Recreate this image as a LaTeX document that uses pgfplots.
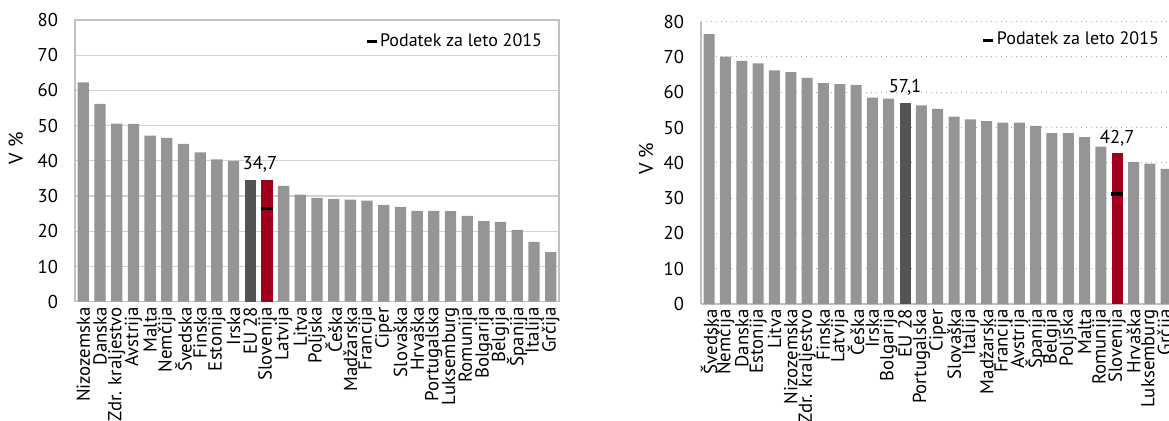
\documentclass[border=0pt]{standalone}
\usepackage{fontspec}
\setmainfont{PT Sans}
\usepackage{pgfplots}
\pgfplotsset{compat=1.18}
\definecolor{barg}{HTML}{959595}
\definecolor{bard}{HTML}{535353}
\definecolor{barr}{HTML}{A0001E}
\definecolor{gridg}{HTML}{D2D2D2}
\definecolor{frameg}{HTML}{C0C0C0}
\definecolor{dotg}{HTML}{A8A8A8}
\pgfplotsset{
  common/.style={
    scale only axis, anchor=south west,
    ymin=0, ymax=80, ytick={0,10,...,80},
    xmin=-0.5, xmax=28.5, xtick={0,...,28},
    tick style={draw=none},
    /pgf/number format/assume math mode=true,
    yticklabel style={font=\fontsize{9.3}{10}\selectfont, xshift=-5pt},
    xticklabel style={font=\fontsize{9.4}{11}\selectfont, rotate=90, anchor=east, inner sep=2.5pt},
    ymajorgrids,
    label style={font=\fontsize{9.3}{10}\selectfont},
    ylabel={V \%},
    legend style={draw=none, fill=none, font=\fontsize{9}{10}\selectfont,
      inner sep=0pt, outer sep=0pt, anchor=north east,
      legend cell align=left, nodes={inner sep=1pt}},
  },
  mybar/.style={ybar, bar width=#1, bar shift=0pt, draw=none, forget plot},
  mymark/.style={only marks, mark=-, mark size=3pt, mark options={line width=1.6pt, black},
    legend image code/.code={\draw[black, line width=1.5pt] (0pt,0pt) -- (5pt,0pt);}},
}
\begin{document}
\begin{tikzpicture}
\clip[use as bounding box] (0,0) rectangle (584.5pt,210pt);
% ---------------- left panel ----------------
\begin{axis}[common,
  at={(37.5pt,59.15pt)}, width=242pt, height=140.85pt,
  grid style={gridg, line width=0.6pt},
  axis line style={frameg, line width=0.6pt},
  every axis y label/.style={at={(axis description cs:-0.122,0.545)}, rotate=90, anchor=center},
  xticklabels={Nizozemska,Danska,Zdr. kraljestvo,Avstrija,Malta,Nemčija,Švedska,Finska,Estonija,Irska,EU 28,Slovenija,Latvija,Litva,Poljska,Češka,Madžarska,Francija,Ciper,Slovaška,Hrvaška,Portugalska,Luksemburg,Romunija,Bolgarija,Belgija,Španija,Italija,Grčija},
  legend style={at={(axis description cs:1,1)}, xshift=-7.5pt, yshift=-6pt},
]
\addplot[mybar=5.65pt, fill=barg] coordinates {
(0,62.3) (1,56.2) (2,50.6) (3,50.5) (4,47.2) (5,46.5) (6,44.8) (7,42.4) (8,40.4) (9,40.0)
(12,32.9) (13,30.4) (14,29.5) (15,29.1) (16,29.0) (17,28.7) (18,27.5) (19,26.9) (20,25.8)
(21,25.8) (22,25.7) (23,24.4) (24,22.9) (25,22.7) (26,20.4) (27,17.0) (28,14.1)};
\addplot[mybar=5.65pt, fill=bard] coordinates {(10,34.7)};
\addplot[mybar=5.65pt, fill=barr, nodes near coords={34,7},
  every node near coord/.append style={font=\fontsize{9.3}{10}\selectfont, black, xshift=-3.5pt}] coordinates {(11,34.7)};
\addplot[mymark] coordinates {(11,26.4)};
\addlegendentry{Podatek za leto 2015}
\end{axis}
% ---------------- right panel ----------------
\begin{axis}[common,
  at={(350.5pt,58pt)}, width=236.7pt, height=141.15pt,
  axis x line*=bottom, axis y line*=left,
  axis line style={frameg, line width=0.8pt, -},
  grid style={dotg, line width=0.5pt, dotted},
  every axis y label/.style={at={(axis description cs:-0.116,0.514)}, rotate=90, anchor=center},
  xticklabels={Švedska,Nemčija,Danska,Estonija,Litva,Nizozemska,Zdr. kraljestvo,Finska,Latvija,Češka,Irska,Bolgarija,EU 28,Portugalska,Ciper,Slovaška,Italija,Madžarska,Francija,Avstrija,Španija,Belgija,Poljska,Malta,Romunija,Slovenija,Hrvaška,Luksemburg,Grčija},
  legend style={at={(axis description cs:1,1)}, xshift=-6.75pt, yshift=-4.2pt},
]
\addplot[mybar=5.5pt, fill=barg] coordinates {
(0,76.5) (1,70.1) (2,68.9) (3,68.2) (4,66.2) (5,65.7) (6,64.1) (7,62.6) (8,62.3) (9,62.1)
(10,58.5) (11,58.2) (13,56.3) (14,55.3) (15,53.1) (16,52.3) (17,51.8) (18,51.4) (19,51.4)
(20,50.5) (21,48.4) (22,48.4) (23,47.3) (24,44.6) (26,40.2) (27,39.8) (28,38.3)};
\addplot[mybar=5.5pt, fill=bard, nodes near coords={57,1},
  every node near coord/.append style={font=\fontsize{9.3}{10}\selectfont, black}] coordinates {(12,57.1)};
\addplot[mybar=5.5pt, fill=barr, nodes near coords={42,7},
  every node near coord/.append style={font=\fontsize{9.3}{10}\selectfont, black}] coordinates {(25,42.7)};
\addplot[mymark] coordinates {(25,31.2)};
\addlegendentry{Podatek za leto 2015}
\end{axis}
\end{tikzpicture}
\end{document}
